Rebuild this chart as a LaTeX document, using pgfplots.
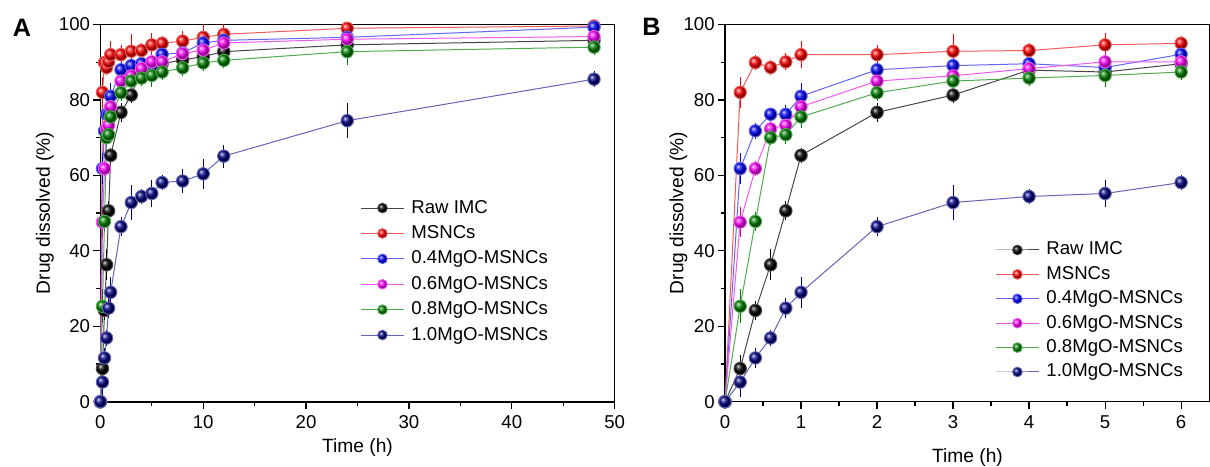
\documentclass[border=0pt]{standalone}
\usepackage{pgfplots}
\pgfplotsset{compat=1.18}
\usepackage{pgfplotstable}
\usepackage{fontspec}
\setmainfont{Liberation Sans}

\definecolor{cnavy}{RGB}{0,0,128}
\definecolor{cgreen}{RGB}{0,128,0}
\definecolor{lblack}{RGB}{70,70,70}
\definecolor{lred}{RGB}{240,90,90}
\definecolor{lblue}{RGB}{100,100,240}
\definecolor{lmag}{RGB}{240,90,240}
\definecolor{lgreen}{RGB}{80,170,80}
\definecolor{lnavy}{RGB}{100,100,180}

\pgfplotstableread{
t y e
0 0 0
0.2 8.8 2.5
0.4 24.2 1.5
0.6 36.3 3
0.8 50.6 1.5
1 65.3 1
2 76.7 1.5
3 81.3 1
4 87.9 1
5 87.4 1
6 89.6 1
8 90.6 1
10 91.5 1
12 92.8 1
24 94.6 1
48 95.8 1
}\rawimc
\pgfplotstableread{
t y e
0 0 0
0.2 82.0 3
0.4 89.9 1
0.6 88.6 1
0.8 90.1 1.2
1 92.0 2.5
2 92.0 1.5
3 92.9 3.5
4 93.1 1
5 94.6 2
6 95.0 1
8 95.6 1.5
10 96.6 3
12 97.4 2
24 99.0 1
48 99.6 1
}\msncs
\pgfplotstableread{
t y e
0 0 0
0.2 61.8 3
0.4 71.8 1
0.6 76.2 0.5
0.8 76.2 1.5
1 81.0 2.5
2 88.0 1
3 89.1 1
4 89.6 1
5 88.6 1
6 92.1 1
8 92.5 1
10 95.1 1
12 95.8 1
24 96.6 1
48 99.3 1
}\mgoa
\pgfplotstableread{
t y e
0 0 0
0.2 47.6 3
0.4 61.8 1
0.6 72.3 1
0.8 73.3 1.5
1 78.2 1.5
2 85.0 1
3 86.4 1
4 88.3 1
5 90.1 1.5
6 90.1 1
8 92.3 1
10 93.2 1
12 95.1 1
24 96.1 1
48 96.8 1
}\mgob
\pgfplotstableread{
t y e
0 0 0
0.2 25.3 3.5
0.4 47.8 1.5
0.6 70.0 1
0.8 70.8 1.5
1 75.5 2
2 81.9 1
3 85.0 1
4 85.8 1
5 86.5 2
6 87.4 1
8 88.5 1
10 89.8 1
12 90.5 1
24 92.8 2.5
48 94.0 1
}\mgoc
\pgfplotstableread{
t y e
0 0 0
0.2 5.2 3
0.4 11.6 1.5
0.6 16.9 1
0.8 24.8 1.5
1 29.0 3
2 46.4 1.5
3 52.8 3.5
4 54.4 1
5 55.2 2.5
6 58.1 1
8 58.5 2
10 60.4 3
12 65.1 2
24 74.5 3.5
48 85.5 1
}\mgod

\pgfplotsset{
  myaxis/.style={
    scale only axis,
    ymin=0, ymax=100,
    ytick={0,20,...,100},
    minor y tick num=1,
    minor x tick num=1,
    tick align=outside,
    tick pos=left,
    major tick length=3.5pt,
    minor tick length=2pt,
    axis line style={line width=0.8pt},
    every tick/.style={line width=0.6pt, black},
    tick label style={font=\fontsize{9.3}{10}\selectfont},
    yticklabel style={inner xsep=1.5pt},
    /pgf/number format/assume math mode=true,
    label style={font=\fontsize{9.6}{11}\selectfont},
    ylabel={Drug dissolved (\%)},
    xlabel={Time (h)},
    legend cell align=left,
    legend image code/.code={
      \draw[##1, mark repeat=2, mark phase=2, mark size=2.4pt] plot coordinates {(0pt,0pt) (10.75pt,0pt) (21.5pt,0pt)};
    },
  },
  ser/.style n args={2}{color=#2, line width=0.5pt, mark=ball, mark size=3.1pt,
    mark options={ball color=#1, draw=none},
    error bars/.cd, y dir=both, y explicit,
    error bar style={#1, line width=0.4pt},
    error mark options={#1, line width=0.4pt, mark size=2pt}},
}

\begin{document}
\begin{tikzpicture}[x=1pt,y=1pt]
\useasboundingbox (0,0) rectangle (605,233);
\node[font=\bfseries\fontsize{12.6}{14}\selectfont] at (11,219.25) {A};
\node[font=\bfseries\fontsize{12.6}{14}\selectfont] at (325.75,219.5) {B};

\begin{axis}[myaxis,
  at={(50.2pt,32.15pt)}, anchor=south west,
  width=257.1pt, height=188.6pt,
  xmin=0, xmax=50, xtick={0,10,...,50},
  xlabel style={at={(axis description cs:0.5,-0.1227)}, anchor=center},
  ylabel style={at={(axis description cs:-0.108,0.5)}, anchor=center},
  legend style={draw=none, fill=none, at={(axis description cs:0.505,0.345)}, anchor=west,
    inner sep=0pt, row sep=3.7pt, column sep=3.5pt,
    nodes={inner sep=0pt, text height=7pt, text depth=2pt},
    font=\fontsize{9.3}{10}\selectfont},
]
\addplot[ser={black}{lblack}] table[x=t,y=y,y error=e] {\rawimc};
\addlegendentry{Raw IMC}
\addplot[ser={red}{lred}] table[x=t,y=y,y error=e] {\msncs};
\addlegendentry{MSNCs}
\addplot[ser={blue}{lblue}] table[x=t,y=y,y error=e] {\mgoa};
\addlegendentry{0.4MgO-MSNCs}
\addplot[ser={magenta}{lmag}] table[x=t,y=y,y error=e] {\mgob};
\addlegendentry{0.6MgO-MSNCs}
\addplot[ser={cgreen}{lgreen}] table[x=t,y=y,y error=e] {\mgoc};
\addlegendentry{0.8MgO-MSNCs}
\addplot[ser={cnavy}{lnavy}] table[x=t,y=y,y error=e] {\mgod};
\addlegendentry{1.0MgO-MSNCs}
\end{axis}

\begin{axis}[myaxis,
  at={(362.5pt,32.15pt)}, anchor=south west,
  width=242.5pt, height=188.6pt,
  xmin=0, xmax=6.38, xtick={0,1,...,6},
  restrict x to domain=0:6,
  xlabel style={at={(axis description cs:0.5,-0.149)}, anchor=center},
  ylabel style={at={(axis description cs:-0.096,0.5)}, anchor=center},
  legend style={draw=none, fill=none, at={(axis description cs:0.5567,0.2405)}, anchor=west,
    inner sep=0pt, row sep=3.2pt, column sep=3.5pt,
    nodes={inner sep=0pt, text height=7pt, text depth=2pt},
    font=\fontsize{9.3}{10}\selectfont},
]
\addplot[ser={black}{lblack}] table[x=t,y=y,y error=e] {\rawimc};
\addlegendentry{Raw IMC}
\addplot[ser={red}{lred}] table[x=t,y=y,y error=e] {\msncs};
\addlegendentry{MSNCs}
\addplot[ser={blue}{lblue}] table[x=t,y=y,y error=e] {\mgoa};
\addlegendentry{0.4MgO-MSNCs}
\addplot[ser={magenta}{lmag}] table[x=t,y=y,y error=e] {\mgob};
\addlegendentry{0.6MgO-MSNCs}
\addplot[ser={cgreen}{lgreen}] table[x=t,y=y,y error=e] {\mgoc};
\addlegendentry{0.8MgO-MSNCs}
\addplot[ser={cnavy}{lnavy}] table[x=t,y=y,y error=e] {\mgod};
\addlegendentry{1.0MgO-MSNCs}
\end{axis}
\end{tikzpicture}
\end{document}
